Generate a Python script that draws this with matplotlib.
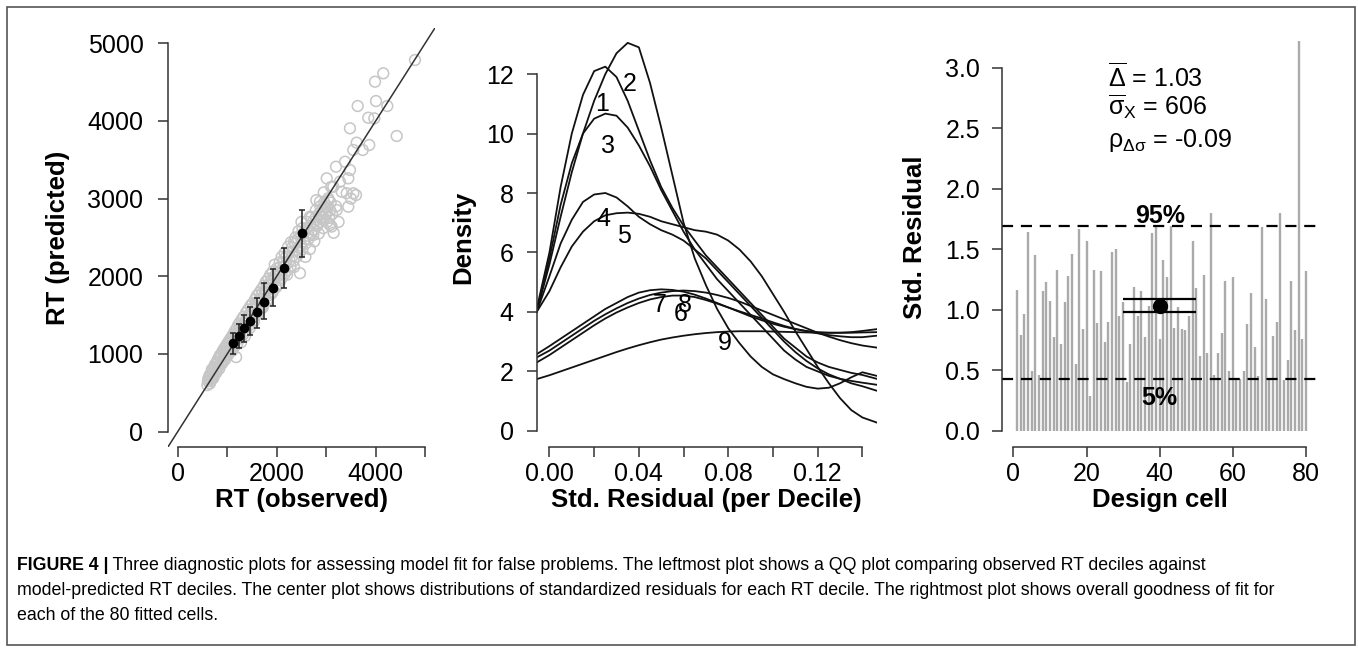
import numpy as np
import matplotlib
matplotlib.use("Agg")
import matplotlib.pyplot as plt
from matplotlib.patches import Rectangle

plt.rcParams['font.family'] = ['Liberation Sans', 'DejaVu Sans']
plt.rcParams['mathtext.fontset'] = 'custom'
plt.rcParams['mathtext.rm'] = 'Liberation Sans'
plt.rcParams['mathtext.it'] = 'Liberation Sans:italic'
plt.rcParams['mathtext.bf'] = 'Liberation Sans:bold'

# ---- left panel: QQ plot, observed vs predicted RT (ms)
obs_rt = [610, 630, 650, 660, 680, 700, 710, 730, 740, 760, 770, 790, 800, 820, 830, 850,
          860, 880, 890, 910, 920, 940, 950, 970, 980, 1000, 1010, 1030, 1040, 1060, 1070,
          1090, 1100, 1120, 1130, 1150, 1160, 1180, 1190, 1200, 1220, 1230, 1250, 1260,
          1280, 1290, 1300, 1330, 1340, 1360, 1380, 1390, 1420, 1430, 1450, 1470, 1480,
          1510, 1520, 1540, 1560, 1570, 1600, 1610, 1630, 1650, 1660, 1690, 1700, 1720,
          1740, 1750, 1780, 1790, 1810, 1830, 1840, 1870, 1880, 1900, 1920, 1940, 1960,
          1990, 2000, 2030, 2060, 2080, 2100, 2130, 2160, 2190, 2210, 2230, 2260, 2290,
          2320, 2350, 2380, 2410, 2440, 2470, 2490, 2520, 2550, 2580, 2610, 2640, 2670,
          2700, 2730, 2760, 2790, 2820, 2850, 2880, 2900, 2940, 2960, 2990, 3020, 3050,
          3080, 3110, 3150, 3200, 3250, 2672, 2739, 2874, 2941, 3010, 3042, 3076, 3143,
          3198, 3212, 3278, 3313, 3380, 3446, 3446, 3480, 3480, 3547, 3602, 3616, 3636,
          3737, 3850, 3870, 3972, 3986, 4006, 4153, 4234, 4424, 4794, 3414, 3549, 3500,
          2800, 2950, 3100, 2500, 2350,
          600, 620, 640, 670, 690, 720, 750, 780, 810, 840, 870, 900, 930, 960, 990,
          1020, 1050, 1080, 1110, 1140, 1170, 1200, 1230, 1260, 1290, 1320, 1350, 1380,
          1410, 1440, 1470, 1500, 1530, 1560, 1590, 1620, 1650, 1680, 1710, 1740, 1770,
          1800, 1830, 1860, 1890, 1920, 1950, 1980, 2010, 2040, 2070, 2100, 2130, 2160,
          2190, 2220, 2250, 2280, 2310, 2340, 2370, 2400, 2430, 2460, 2490, 2520, 2550,
          2580, 2610, 2640, 2670, 2700, 2730, 2760, 2790, 2820, 2850, 2880, 2910, 2940,
          2970, 3000, 3030, 3060, 3090, 3120]
pred_rt = [650, 700, 620, 740, 680, 780, 700, 820, 740, 860, 770, 900, 810, 940, 840, 980,
           870, 1000, 900, 1040, 930, 1070, 960, 1100, 990, 1130, 1020, 1160, 1050, 1190,
           1080, 1220, 1040, 1250, 1140, 1290, 1170, 960, 1330, 1200, 1370, 1240, 1400,
           1270, 1150, 1440, 1320, 1480, 1360, 1230, 1530, 1400, 1570, 1440, 1330, 1620,
           1490, 1650, 1530, 1420, 1700, 1580, 1750, 1620, 1520, 1790, 1670, 1830, 1710,
           1600, 1880, 1760, 1930, 1800, 1680, 1970, 1850, 2020, 1900, 1780, 2060, 1950,
           2150, 1860, 2100, 2000, 2180, 1950, 2250, 2080, 2300, 2150, 2020, 2380, 2200,
           2440, 2260, 2120, 2500, 2340, 2580, 2040, 2400, 2620, 2450, 2250, 2700, 2520,
           2350, 2760, 2600, 2450, 2850, 2680, 2550, 2900, 2760, 2620, 2950, 2820, 2700,
           2980, 2850, 2640, 2560, 2900, 2700, 2767, 2532, 2960, 2725, 3261, 3004, 2660,
           3153, 3411, 2853, 3218, 3089, 3475, 3261, 2896, 3368, 3905, 3626, 3046, 3720,
           4192, 3626, 4041, 3690, 4033, 4505, 4256, 4613, 4192, 3806, 4784, 3069, 3069,
           3000, 2980, 3080, 3150, 2700, 2450,
           600, 680, 720, 650, 800, 690, 860, 760, 900, 810, 960, 880, 1020, 930, 1080,
           990, 1150, 1040, 1200, 1090, 1260, 1130, 1300, 1200, 1370, 1250, 1400, 1300,
           1480, 1370, 1530, 1420, 1600, 1480, 1660, 1540, 1700, 1580, 1780, 1640, 1830,
           1690, 1890, 1760, 1950, 1800, 2000, 1870, 2060, 1900, 2120, 1980, 2180, 2030,
           2250, 2080, 2300, 2130, 2370, 2200, 2420, 2250, 2480, 2300, 2530, 2350, 2560,
           2420, 2620, 2480, 2650, 2550, 2700, 2600, 2760, 2650, 2800, 2700, 2850, 2760,
           2890, 2800, 2900, 2750, 2950, 2800]

dec_obs = [1111, 1232, 1347, 1468, 1596, 1751, 1919, 2155, 2512]
dec_pred = [1137, 1232, 1330, 1429, 1536, 1674, 1845, 2103, 2554]
dec_lo = [996, 1073, 1159, 1245, 1339, 1446, 1618, 1845, 2245]
dec_hi = [1266, 1386, 1502, 1609, 1725, 1910, 2094, 2361, 2854]

# ---- middle panel: density of std. residuals per RT decile
resid = [-0.0057, 0.000, 0.005, 0.010, 0.015, 0.020, 0.025, 0.030, 0.035, 0.040, 0.045,
         0.050, 0.055, 0.060, 0.065, 0.070, 0.075, 0.080, 0.085, 0.090, 0.095, 0.100,
         0.105, 0.110, 0.115, 0.120, 0.125, 0.130, 0.135, 0.140, 0.1464]
dens1 = [4.1, 6.0, 8.2, 10.0, 11.3, 12.1, 12.25, 11.9, 11.1, 10.1, 9.1, 8.2, 7.5, 6.9, 6.4,
         5.9, 5.5, 5.1, 4.7, 4.3, 3.9, 3.5, 3.1, 2.8, 2.5, 2.3, 2.15, 2.05, 1.95, 1.88, 1.75]
dens2 = [4.0, 5.6, 7.2, 8.7, 10.0, 11.1, 12.0, 12.7, 13.05, 12.9, 11.7, 10.2, 8.6, 7.0, 5.8,
         4.9, 4.1, 3.45, 2.95, 2.5, 2.15, 1.9, 1.74, 1.6, 1.48, 1.42, 1.45, 1.6, 1.8, 1.97, 1.85]
dens3 = [4.0, 5.8, 7.6, 9.0, 10.0, 10.5, 10.67, 10.6, 10.2, 9.6, 8.9, 8.1, 7.4, 6.7, 6.1,
         5.6, 5.1, 4.7, 4.3, 3.9, 3.5, 3.1, 2.7, 2.4, 2.15, 2.0, 1.85, 1.75, 1.68, 1.62, 1.55]
dens4 = [4.0, 5.2, 6.3, 7.1, 7.7, 7.95, 8.0, 7.85, 7.55, 7.2, 6.95, 6.75, 6.6, 6.4, 6.1,
         5.8, 5.4, 5.0, 4.6, 4.2, 3.8, 3.4, 3.0, 2.65, 2.35, 2.1, 1.9, 1.75, 1.6, 1.5, 1.35]
dens5 = [4.0, 4.7, 5.5, 6.2, 6.7, 7.05, 7.25, 7.32, 7.34, 7.3, 7.2, 7.05, 6.95, 6.85, 6.75,
         6.7, 6.6, 6.4, 6.1, 5.7, 5.2, 4.6, 4.0, 3.35, 2.75, 2.15, 1.6, 1.1, 0.7, 0.45, 0.28]
dens6 = [2.3, 2.55, 2.8, 3.05, 3.3, 3.55, 3.78, 3.98, 4.15, 4.3, 4.42, 4.5, 4.55, 4.55, 4.5,
         4.4, 4.28, 4.15, 4.02, 3.9, 3.78, 3.65, 3.53, 3.43, 3.35, 3.28, 3.22, 3.18, 3.15, 3.15, 3.2]
dens7 = [2.58, 2.85, 3.1, 3.35, 3.6, 3.85, 4.1, 4.3, 4.5, 4.65, 4.73, 4.76, 4.74, 4.68, 4.58,
         4.45, 4.3, 4.15, 4.0, 3.85, 3.72, 3.6, 3.5, 3.42, 3.36, 3.32, 3.3, 3.3, 3.32, 3.36, 3.42]
dens8 = [2.47, 2.7, 2.95, 3.2, 3.45, 3.7, 3.92, 4.12, 4.3, 4.45, 4.57, 4.65, 4.7, 4.72, 4.7,
         4.65, 4.57, 4.47, 4.35, 4.2, 4.05, 3.9, 3.75, 3.6, 3.45, 3.3, 3.17, 3.05, 2.95, 2.87, 2.8]
dens9 = [1.74, 1.87, 2.0, 2.13, 2.26, 2.39, 2.52, 2.65, 2.77, 2.88, 2.98, 3.07, 3.14, 3.2, 3.25,
         3.29, 3.32, 3.34, 3.35, 3.35, 3.35, 3.34, 3.33, 3.32, 3.31, 3.3, 3.3, 3.3, 3.3, 3.31, 3.32]
decile_names = ['1', '2', '3', '4', '5', '6', '7', '8', '9']
name_x = [0.0234, 0.0361, 0.0264, 0.0241, 0.0334, 0.0587, 0.0492, 0.0604, 0.0786]
name_y = [11.0, 11.66, 9.58, 7.12, 6.54, 3.92, 4.23, 4.23, 2.97]

# ---- right panel: std. residual per design cell
cells = list(range(1, 81))
cell_resid = [1.16, 0.79, 0.96, 1.64, 0.49, 1.45, 0.46, 1.15, 1.23, 1.07,
              0.77, 1.33, 0.72, 1.06, 1.28, 1.46, 0.55, 1.67, 0.84, 1.57,
              0.29, 1.33, 0.89, 1.32, 0.73, 0.90, 1.48, 1.50, 0.95, 1.06,
              0.40, 0.72, 1.19, 0.95, 1.15, 0.77, 1.03, 1.63, 1.68, 0.76,
              1.41, 1.27, 1.69, 0.85, 1.02, 0.84, 0.83, 0.95, 1.57, 1.18,
              0.62, 1.29, 0.64, 1.80, 0.46, 0.64, 0.81, 1.24, 0.49, 1.27,
              0.42, 0.43, 0.49, 0.88, 1.14, 0.69, 0.45, 1.68, 1.09, 0.43,
              0.78, 0.90, 1.80, 0.42, 0.58, 1.24, 0.83, 3.22, 0.76, 1.32]
q95 = 1.69
q05 = 0.43
mean_cell = 40
mean_delta = 1.03
mean_band = [0.98, 1.09]
band_cells = [30, 50]

caption_head = 'FIGURE 4 |'
caption_lines = [
    'Three diagnostic plots for assessing model fit for false problems. The leftmost plot shows a QQ plot comparing observed RT deciles against',
    'model-predicted RT deciles. The center plot shows distributions of standardized residuals for each RT decile. The rightmost plot shows overall goodness of fit for',
    'each of the 80 fitted cells.',
]

W, H = 1358, 652
fig = plt.figure(figsize=(W / 100, H / 100), dpi=100)
fig.patch.set_facecolor('white')
fig.add_artist(Rectangle((7 / W, 1 - 645 / H), 1348 / W, 638 / H, transform=fig.transFigure,
                         fill=False, edgecolor='#555555', linewidth=1.2))


def px_axes(x0, x1, ytop, ybot):
    return fig.add_axes([x0 / W, 1 - ybot / H, (x1 - x0) / W, (ybot - ytop) / H])


def r_style(ax, xb, yb, pad_y=10):
    for s in ['top', 'right']:
        ax.spines[s].set_visible(False)
    for s in ['left', 'bottom']:
        ax.spines[s].set_linewidth(1.1)
        ax.spines[s].set_color('#333333')
    ax.spines['bottom'].set_bounds(*xb)
    ax.spines['left'].set_bounds(*yb)
    ax.tick_params(direction='out', length=7.5, width=1.1, color='#333333', labelsize=18)
    ax.tick_params(axis='y', pad=pad_y)
    ax.tick_params(axis='x', pad=3)


ax1 = px_axes(167.8, 435.1, 27.7, 447.2)
ax2 = px_axes(536.7, 876.7, 27.7, 447.2)
ax3 = px_axes(1001.7, 1317.6, 27.7, 447.2)

# left
ax1.scatter(obs_rt, pred_rt, s=60, facecolors='none', edgecolors='#c6c6c6', linewidths=1.1, zorder=1)
ax1.axline((0, 0), slope=1, color='#333333', linewidth=1.1, zorder=2)
ax1.errorbar(dec_obs, dec_pred,
             yerr=[np.array(dec_pred) - np.array(dec_lo), np.array(dec_hi) - np.array(dec_pred)],
             fmt='o', color='black', markersize=6, ecolor='#222222', elinewidth=1.1,
             capsize=2.5, capthick=1.1, zorder=3)
ax1.set_xlim(-200, 5200)
ax1.set_ylim(-200, 5200)
ax1.set_xticks([0, 1000, 2000, 3000, 4000, 5000])
ax1.set_xticklabels(['0', '', '2000', '', '4000', ''])
ax1.set_yticks([0, 1000, 2000, 3000, 4000, 5000])
r_style(ax1, (0, 5000), (0, 5000), pad_y=10)
ax1.text(-0.41, 0.5, 'RT (predicted)', transform=ax1.transAxes, rotation=90,
         ha='center', va='center', fontsize=18.5, fontweight='bold')
ax1.text(0.5, -0.126, 'RT (observed)', transform=ax1.transAxes,
         ha='center', va='center', fontsize=18.5, fontweight='bold')

# middle
for d in [dens1, dens2, dens3, dens4, dens5, dens6, dens7, dens8, dens9]:
    ax2.plot(resid, d, color='#111111', linewidth=1.3)
for nm, lx, ly in zip(decile_names, name_x, name_y):
    ax2.text(lx, ly, nm, ha='center', va='center', fontsize=18)
ax2.set_xlim(-0.0057, 0.1464)
ax2.set_ylim(-0.55, 13.56)
ax2.set_xticks([0, 0.02, 0.04, 0.06, 0.08, 0.10, 0.12, 0.14])
ax2.set_xticklabels(['0.00', '', '0.04', '', '0.08', '', '0.12', ''])
ax2.set_yticks([0, 2, 4, 6, 8, 10, 12])
r_style(ax2, (0, 0.14), (0, 12), pad_y=9)
ax2.text(-0.217, 0.5, 'Density', transform=ax2.transAxes, rotation=90,
         ha='center', va='center', fontsize=18.5, fontweight='bold')
ax2.text(0.5, -0.126, 'Std. Residual (per Decile)', transform=ax2.transAxes,
         ha='center', va='center', fontsize=18.5, fontweight='bold')

# right
ax3.vlines(cells, 0, cell_resid, color='#aaaaaa', linewidth=1.7)
ax3.axhline(q95, color='black', linewidth=1.6, linestyle=(0, (5, 3.5)))
ax3.axhline(q05, color='black', linewidth=1.6, linestyle=(0, (5, 3.5)))
for b in mean_band:
    ax3.hlines(b, band_cells[0], band_cells[1], color='black', linewidth=1.6)
ax3.plot([mean_cell], [mean_delta], 'o', color='black', markersize=10)
ax3.text(40, 1.72, '95%', ha='center', va='baseline', fontsize=18, fontweight='bold')
ax3.text(40, 0.21, '5%', ha='center', va='baseline', fontsize=18, fontweight='bold')
ax3.text(26, 2.84, r'$\overline{\mathrm{\Delta}}$ = 1.03', ha='left', va='baseline', fontsize=18)
ax3.text(26, 2.61, r'$\overline{\mathrm{\sigma}}_{\mathrm{X}}$ = 606', ha='left', va='baseline', fontsize=18)
ax3.text(26, 2.34, r'$\mathrm{\rho}_{\mathrm{\Delta\sigma}}$ = -0.09', ha='left', va='baseline', fontsize=18)
ax3.set_xlim(-3.2, 83.2)
ax3.set_ylim(-0.137, 3.33)
ax3.set_xticks([0, 20, 40, 60, 80])
ax3.set_yticks([0.0, 0.5, 1.0, 1.5, 2.0, 2.5, 3.0])
ax3.set_yticklabels(['0.0', '0.5', '1.0', '1.5', '2.0', '2.5', '3.0'])
r_style(ax3, (0, 80), (0, 3), pad_y=8)
ax3.text(-0.274, 0.5, 'Std. Residual', transform=ax3.transAxes, rotation=90,
         ha='center', va='center', fontsize=18.5, fontweight='bold')
ax3.text(0.5, -0.126, 'Design cell', transform=ax3.transAxes,
         ha='center', va='center', fontsize=18.5, fontweight='bold')

# caption
cap_size = 12.8
head = fig.text(17 / W, 1 - 570 / H, caption_head, fontsize=cap_size, fontweight='bold',
                va='baseline', ha='left')
ax1.annotate(' ' + caption_lines[0], xy=(1, 0), xycoords=head, va='bottom', ha='left',
             fontsize=cap_size, annotation_clip=False)
fig.text(17 / W, 1 - 595 / H, caption_lines[1], fontsize=cap_size, va='baseline', ha='left')
fig.text(17 / W, 1 - 620 / H, caption_lines[2], fontsize=cap_size, va='baseline', ha='left')

fig.savefig('out.png', dpi=100, facecolor='white')
